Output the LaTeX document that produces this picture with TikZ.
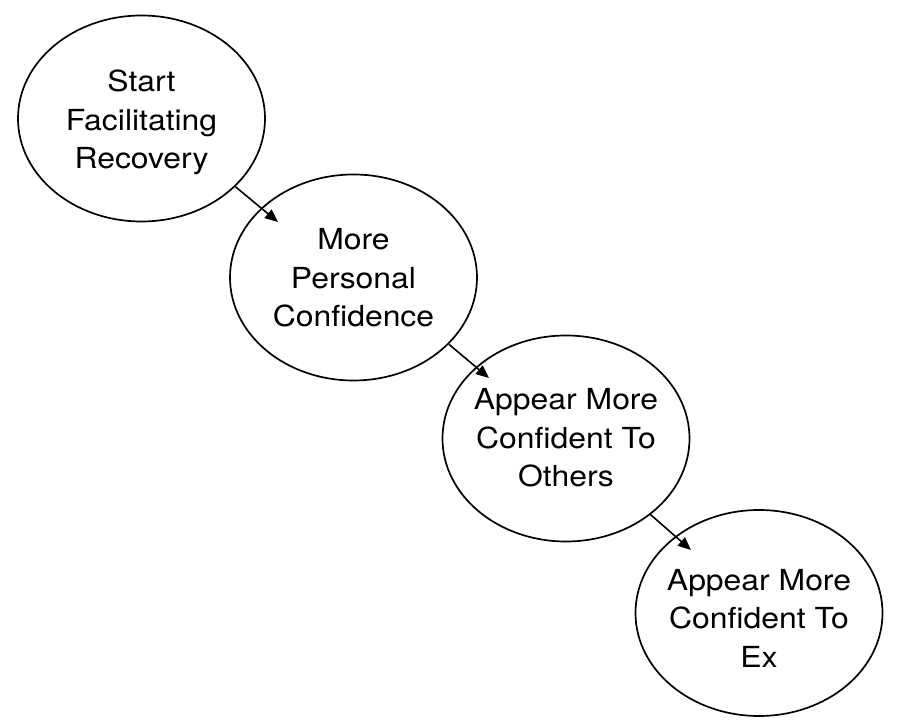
\documentclass[tikz,border=0pt]{standalone}
\usepackage{fontspec}
\setmainfont{TeX Gyre Heros}
\usetikzlibrary{arrows.meta,shapes.geometric}
\tikzset{
  bubble/.style={draw=black, line width=1.7pt, ellipse, minimum width=247pt, minimum height=206pt, inner sep=0pt, fill=white},
  flow/.style={line width=1.6pt, -{Triangle[length=13pt,width=11pt]}},
  words/.style={yshift=#1, inner sep=0pt},
}
\newcommand{\btext}[1]{\scalebox{1.1}[1]{\fontsize{29}{38.5}\selectfont\begin{tabular}{@{}c@{}}#1\end{tabular}}}
\begin{document}
\begin{tikzpicture}[x=1pt,y=1pt]
\useasboundingbox (0,0) rectangle (900,720);
\node[bubble, label={[words=-4pt]center:{\btext{Start\\Facilitating\\Recovery}}}] (e1) at (141.5,601.5) {};
\node[bubble, label={[words=-3pt]center:{\btext{More\\Personal\\Confidence}}}] (e2) at (353.5,442.5) {};
\node[bubble, label={[words=-2pt]center:{\btext{Appear More\\Confident To\\Others}}}] (e3) at (566,281.5) {};
\node[bubble, label={[words=-8pt]center:{\btext{Appear More\\Confident To\\Ex}}}] (e4) at (759,107) {};
\coordinate (t1) at (278,498);
\coordinate (t2) at (489,342);
\coordinate (t3) at (691,170);
\draw[flow] (e1.-36) -- (t1);
\draw[flow] (e2.-35) -- (t2);
\draw[flow] (e3.-42) -- (t3);
\end{tikzpicture}
\end{document}
